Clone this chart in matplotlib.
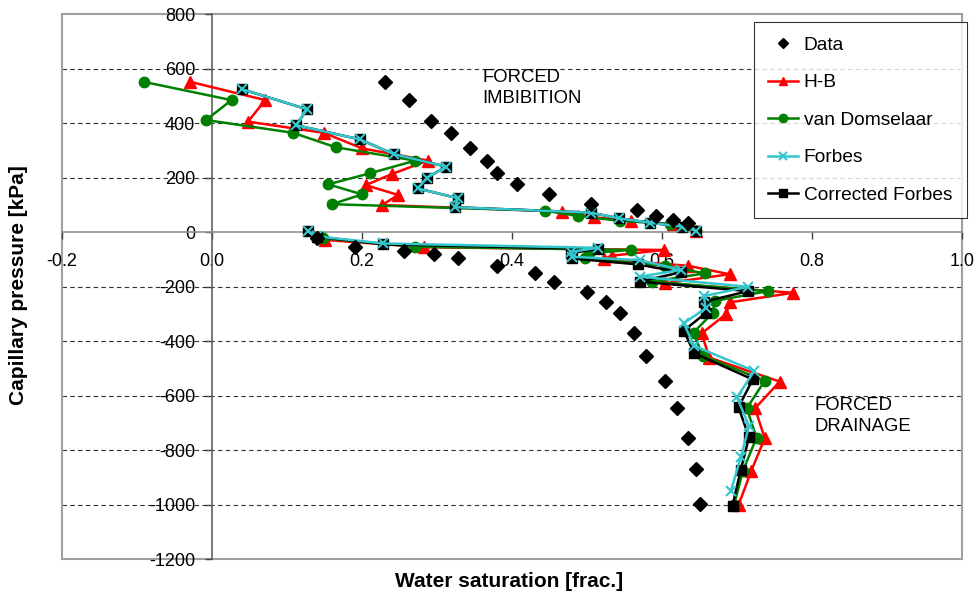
import matplotlib
matplotlib.use("Agg")
import matplotlib.pyplot as plt
from matplotlib.patches import Rectangle

plt.rcParams['font.family'] = ['Liberation Sans', 'DejaVu Sans']

# imbibition branch (positive pressure)
data_imb_sw = [0.231, 0.263, 0.292, 0.319, 0.344, 0.366, 0.380, 0.406, 0.449, 0.505, 0.567, 0.592, 0.615, 0.634]
data_imb_pc = [550, 484, 409, 364, 309, 262, 215, 175, 139, 102, 80, 60, 44, 32]

hb_imb_sw = [-0.029, 0.071, 0.048, 0.149, 0.200, 0.288, 0.240, 0.205, 0.248, 0.227, 0.467, 0.509, 0.558, 0.615, 0.645]
hb_imb_pc = [551, 484, 405, 364, 307, 262, 213, 172, 136, 99, 75, 54, 41, 29, 5]

vd_imb_sw = [-0.091, 0.026, -0.008, 0.108, 0.165, 0.271, 0.210, 0.155, 0.200, 0.160, 0.444, 0.488, 0.544, 0.611, 0.645]
vd_imb_pc = [551, 484, 411, 364, 311, 262, 215, 175, 138, 102, 78, 59, 41, 29, 5]

fb_imb_sw = [0.040, 0.127, 0.112, 0.197, 0.242, 0.312, 0.287, 0.274, 0.328, 0.324, 0.505, 0.543, 0.584, 0.626, 0.645]
fb_imb_pc = [524, 450, 392, 340, 286, 240, 199, 160, 124, 91, 71, 50, 34, 20, 5]

cf_imb_sw = fb_imb_sw
cf_imb_pc = fb_imb_pc

# drainage branch (negative pressure)
data_dr_sw = [0.140, 0.191, 0.256, 0.296, 0.328, 0.380, 0.431, 0.456, 0.500, 0.525, 0.544, 0.563, 0.579,
              0.604, 0.620, 0.635, 0.645, 0.651]
data_dr_pc = [-23, -54, -69, -81, -97, -123, -152, -182, -219, -258, -298, -372, -455,
              -547, -647, -755, -871, -998]

hb_dr_sw = [0.151, 0.282, 0.602, 0.533, 0.522, 0.635, 0.690, 0.604, 0.775, 0.691, 0.685, 0.653, 0.663,
            0.757, 0.724, 0.737, 0.719, 0.702]
hb_dr_pc = [-29, -56, -66, -87, -100, -124, -155, -188, -223, -258, -302, -372, -461,
            -549, -647, -757, -877, -1002]

vd_dr_sw = [0.148, 0.271, 0.558, 0.503, 0.497, 0.604, 0.657, 0.586, 0.741, 0.670, 0.668, 0.642, 0.654,
            0.737, 0.713, 0.726, 0.708, 0.696]
vd_dr_pc = [-23, -54, -66, -78, -97, -124, -152, -182, -217, -253, -296, -369, -454,
            -546, -647, -755, -876, -1002]

fb_dr_sw = [0.128, 0.140, 0.228, 0.515, 0.478, 0.480, 0.570, 0.625, 0.570, 0.715, 0.656, 0.658, 0.629,
            0.643, 0.723, 0.700, 0.716, 0.705, 0.692]
fb_dr_pc = [4, -16, -42, -58, -73, -91, -103, -139, -164, -201, -235, -280, -335,
            -418, -510, -607, -712, -827, -949]

cf_dr_sw = [0.128, 0.140, 0.228, 0.515, 0.478, 0.480, 0.568, 0.625, 0.570, 0.715, 0.656, 0.658, 0.629,
            0.643, 0.721, 0.702, 0.716, 0.705, 0.694]
cf_dr_pc = [4, -17, -45, -62, -78, -97, -119, -148, -182, -217, -256, -298, -362,
            -445, -541, -643, -753, -873, -1004]

y_ticks = [-1200, -1000, -800, -600, -400, -200, 0, 200, 400, 600, 800]
x_ticks = [-0.2, 0.0, 0.2, 0.4, 0.6, 0.8, 1.0]
grid_levels = [-1000, -800, -600, -400, -200, 200, 400, 600]

fig = plt.figure(figsize=(9.77, 5.98), dpi=100)
ax = fig.add_axes([62 / 977, 1 - 559 / 598, 900 / 977, 545 / 598])
ax.set_xlim(-0.2, 1.0)
ax.set_ylim(-1200, 800)

for g in grid_levels:
    ax.axhline(g, color='#303030', lw=0.8, ls=(0, (4, 3)), zorder=1)

# gray plot-area frame
ax.add_patch(Rectangle((0, 0), 1, 1, transform=ax.transAxes, fill=False,
                       edgecolor='#a0a0a0', lw=1.5, zorder=1, clip_on=False))

for s in ['top', 'right']:
    ax.spines[s].set_visible(False)
ax.spines['left'].set_position(('data', 0))
ax.spines['bottom'].set_position(('data', 0))
ax.spines['left'].set_color('#606060')
ax.spines['bottom'].set_color('#909090')
ax.spines['left'].set_linewidth(1.2)
ax.spines['bottom'].set_linewidth(1.2)

ax.set_yticks(y_ticks)
ax.set_yticklabels([str(v) for v in y_ticks])
ax.set_xticks(x_ticks)
ax.set_xticklabels(['%.1f' % v for v in x_ticks])
ax.tick_params(axis='y', direction='out', length=5, width=1, pad=7, labelsize=13, color='#404040')
ax.tick_params(axis='x', direction='out', length=5, width=1, pad=10, labelsize=13, color='#404040')

lw = 1.8
styles = [
    ('H-B', 'red', '^', 8, hb_imb_sw, hb_imb_pc, hb_dr_sw, hb_dr_pc, 3),
    ('van Domselaar', 'green', 'o', 7.5, vd_imb_sw, vd_imb_pc, vd_dr_sw, vd_dr_pc, 4),
    ('Corrected Forbes', 'black', 's', 7, cf_imb_sw, cf_imb_pc, cf_dr_sw, cf_dr_pc, 5),
    ('Forbes', '#33c6cc', 'x', 7, fb_imb_sw, fb_imb_pc, fb_dr_sw, fb_dr_pc, 6),
]
handles = {}
for name, col, mk, ms, xi, yi, xd, yd, z in styles:
    kw = dict(color=col, marker=mk, markersize=ms, lw=lw, zorder=z)
    if mk == 'x':
        kw['markeredgewidth'] = 1.5
    h, = ax.plot(xi, yi, **kw)
    ax.plot(xd, yd, **kw)
    handles[name] = h

h_data, = ax.plot(data_imb_sw, data_imb_pc, ls='none', marker='D', color='black', markersize=7, zorder=7)
ax.plot(data_dr_sw, data_dr_pc, ls='none', marker='D', color='black', markersize=7, zorder=7)

ax.text(0.361, 598, 'FORCED\nIMBIBITION', fontsize=13.3, va='top', ha='left', linespacing=1.3)
ax.text(0.804, -605, 'FORCED\nDRAINAGE', fontsize=13.3, va='top', ha='left', linespacing=1.3)

fig.text(0.019, 0.523, 'Capillary pressure [kPa]', rotation=90, fontsize=15,
         fontweight='bold', ha='center', va='center')
fig.text(0.521, 0.027, 'Water saturation [frac.]', fontsize=15,
         fontweight='bold', ha='center', va='center')

leg_handles = [h_data, handles['H-B'], handles['van Domselaar'], handles['Forbes'], handles['Corrected Forbes']]
leg_labels = ['Data', 'H-B', 'van Domselaar', 'Forbes', 'Corrected Forbes']
leg = fig.legend(leg_handles, leg_labels, loc='upper left', bbox_to_anchor=(754 / 977, 1 - 22 / 598),
                 borderaxespad=0, fontsize=13.8, frameon=True, fancybox=False, labelspacing=1.05,
                 handlelength=1.55, handletextpad=0.3, borderpad=0.75, markerscale=0.8)
leg.get_frame().set_edgecolor('black')
leg.get_frame().set_linewidth(0.8)
leg.set_zorder(10)

fig.savefig('out.png', dpi=100)
